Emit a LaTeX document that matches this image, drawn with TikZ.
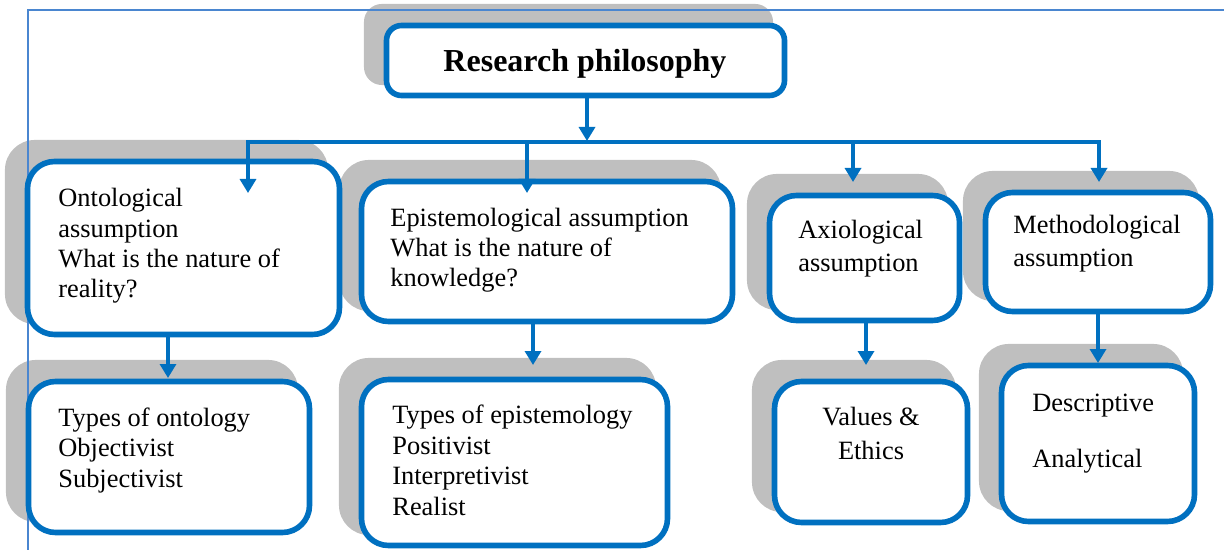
\documentclass[tikz,border=0pt]{standalone}
\usepackage{fontspec}
\setmainfont{Liberation Serif}
\usetikzlibrary{arrows.meta,fit}
\definecolor{boxblue}{HTML}{0070C0}
\definecolor{shadegray}{HTML}{BFBFBF}
\definecolor{frameblue}{HTML}{4A86D0}
\pgfdeclarelayer{back}
\pgfsetlayers{back,main}
\begin{document}
\begin{tikzpicture}[x=0.5pt,y=-0.5pt,
  blbox/.style={draw=boxblue, line width=2.8pt, rounded corners=13.5pt, fill=white, inner sep=0pt},
  headbox/.style={blbox, rounded corners=7.5pt},
  % multi-line texts are placed by the baseline of their last line
  bltext/.style={inner sep=0pt, align=left, anchor=base west, font=\fontsize{13.2}{15.2}\selectfont},
  headtext/.style={inner sep=0pt, anchor=base, font=\bfseries\fontsize{16}{19}\selectfont},
  link/.style={draw=boxblue, line width=1.65pt},
  tip/.tip={Triangle[length=7pt,width=8pt]},
  arrowlink/.style={link, -tip},
  backdrop/.style={fill=shadegray, rounded corners=15pt},
  frame/.style={draw=frameblue, line width=0.65pt},
]
\useasboundingbox (0,0) rectangle (1224,550);

% boxes
\node[headbox, fit={(386.5,25.5)(784.5,95.5)}] (head) {};
\node[blbox, fit={(27.5,161.5)(339.5,334.5)}] (onto) {};
\node[blbox, fit={(361.5,181.5)(732.5,321.5)}] (epi) {};
\node[blbox, fit={(769.5,195.5)(959.5,320.5)}] (axio) {};
\node[blbox, fit={(985.5,192.5)(1210.5,311.5)}] (meth) {};
\node[blbox, fit={(28.5,381.5)(309.5,532.5)}] (tonto) {};
\node[blbox, fit={(361.5,379.5)(667.5,545.5)}] (tepi) {};
\node[blbox, fit={(774.5,381.5)(967.5,522.5)}] (vals) {};
\node[blbox, fit={(1001.5,365.5)(1194.5,521.5)}] (desc) {};

% texts
\node[headtext] (head-t) at (585,72) {Research philosophy};
\node[bltext] (onto-t) at (58,298) {Ontological\\assumption\\What is the nature of\\reality?};
\node[bltext] (epi-t) at (390,287) {Epistemological assumption\\What is the nature of\\knowledge?};
\node[bltext] (axio-t) at (798,272) {Axiological\\[1.7pt]assumption};
\node[bltext] (meth-t) at (1013,267) {Methodological\\[1.3pt]assumption};
\node[bltext] (tonto-t) at (58,487) {Types of ontology\\Objectivist\\Subjectivist};
\node[bltext] (tepi-t) at (392,515) {Types of epistemology\\Positivist\\Interpretivist\\Realist};
\node[bltext, align=center, anchor=base] (vals-t) at (871,459) {Values \&\\[1.5pt]Ethics};
\node[bltext] (desc-t) at (1032,467) {Descriptive\\[12.8pt]Analytical};

% connector points
\coordinate (bus-head) at (587,141);
\coordinate (bus-w) at (248,142);
\coordinate (bus-e) at (1099,142);
\coordinate (bus-epi) at (527,142);
\coordinate (bus-axio) at (853,142);
\coordinate (onto-in) at (248,193);
\coordinate (epi-in) at (527,193);
\coordinate (axio-in) at (853,182);
\coordinate (meth-in) at (1099,182);
\coordinate (tonto-in) at (168,378);
\coordinate (tepi-in) at (533,365);
\coordinate (vals-in) at (866,365);
\coordinate (desc-in) at (1098,363);

% connectors
\draw[arrowlink] (head.south -| bus-head) -- (bus-head);
\draw[link, tip-tip] (onto-in) -- (bus-w) -- (bus-e) -- (meth-in);
\draw[arrowlink] (bus-epi) -- (epi-in);
\draw[arrowlink] (bus-axio) -- (axio-in);
\draw[arrowlink] (onto.south -| tonto-in) -- (tonto-in);
\draw[arrowlink] (epi.south -| tepi-in) -- (tepi-in);
\draw[arrowlink] (axio.south -| vals-in) -- (vals-in);
\draw[arrowlink] (meth.south -| desc-in) -- (desc-in);

% grey backdrops and page frame
\begin{pgfonlayer}{back}
  \fill[backdrop, rounded corners=9pt] ([shift={(-19.75,-18.75)}]head.north west) rectangle ([shift={(-14.25,-13.25)}]head.south east);
  \foreach \n in {onto,epi,axio,meth,tonto,tepi,vals,desc}
    \fill[backdrop] ([shift={(-19.75,-18.75)}]\n.north west) rectangle ([shift={(-14.25,-13.25)}]\n.south east);
  \draw[frame] (28,550) |- (1224,10);
\end{pgfonlayer}
\end{tikzpicture}
\end{document}
